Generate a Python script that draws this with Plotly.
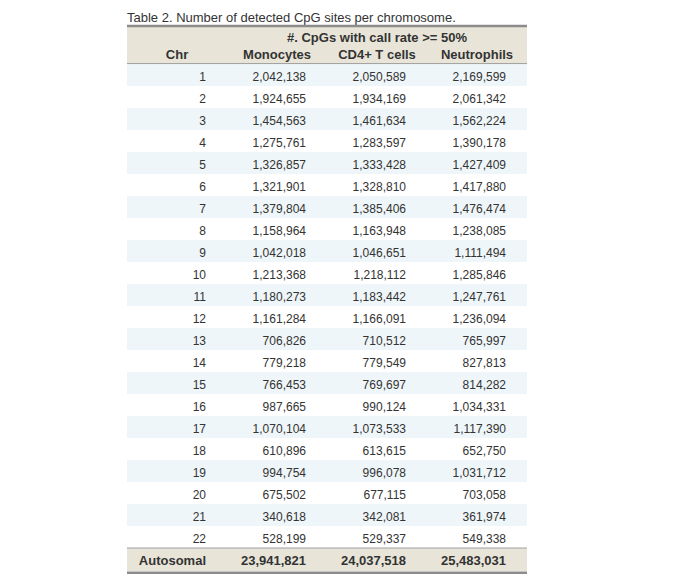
import plotly.graph_objects as go

# ---------------- data ----------------
title = "Table 2. Number of detected CpG sites per chromosome."
group_header = "#. CpGs with call rate >= 50%"
col_headers = ["Chr", "Monocytes", "CD4+ T cells", "Neutrophils"]
chromosomes = ["1", "2", "3", "4", "5", "6", "7", "8", "9", "10", "11",
               "12", "13", "14", "15", "16", "17", "18", "19", "20", "21", "22"]
monocytes = [2042138, 1924655, 1454563, 1275761, 1326857, 1321901, 1379804,
             1158964, 1042018, 1213368, 1180273, 1161284, 706826, 779218,
             766453, 987665, 1070104, 610896, 994754, 675502, 340618, 528199]
cd4_t_cells = [2050589, 1934169, 1461634, 1283597, 1333428, 1328810, 1385406,
               1163948, 1046651, 1218112, 1183442, 1166091, 710512, 779549,
               769697, 990124, 1073533, 613615, 996078, 677115, 342081, 529337]
neutrophils = [2169599, 2061342, 1562224, 1390178, 1427409, 1417880, 1476474,
               1238085, 1111494, 1285846, 1247761, 1236094, 765997, 827813,
               814282, 1034331, 1117390, 652750, 1031712, 703058, 361974, 549338]
total_label = "Autosomal"
totals = [23941821, 24037518, 25483031]

# ---------------- style ----------------
FONT = "Liberation Sans, Arial, sans-serif"
TXT = "#333333"
STRIPE = "#eff6f9"
HEADER_BG = "#e8e5d8"
BORDER = "#8c8c8c"
THIN = "#a0a0a0"

n = len(chromosomes)
rows = list(range(1, n + 1))
total_row = n + 1
ncol = len(col_headers)
right_pad = 0.21            # right padding inside each column (column units)
dy = 0.12                   # vertical text nudge (row units)

fig = go.Figure()

shapes = []
for r in rows:
    if r % 2 == 1:
        shapes.append(dict(type="rect", xref="x", yref="y", x0=0, x1=ncol,
                           y0=r - 0.5, y1=r + 0.5, fillcolor=STRIPE,
                           line=dict(width=0), layer="below"))
shapes.append(dict(type="rect", xref="x", yref="y", x0=0, x1=ncol,
                   y0=-1.19, y1=0.48, fillcolor=HEADER_BG,
                   line=dict(width=0), layer="below"))
shapes.append(dict(type="rect", xref="x", yref="y", x0=0, x1=ncol,
                   y0=total_row - 0.5, y1=total_row + 0.55, fillcolor=HEADER_BG,
                   line=dict(width=0), layer="below"))
shapes.append(dict(type="line", xref="x", yref="y", x0=0, x1=ncol,
                   y0=-1.23, y1=-1.23, line=dict(color=BORDER, width=2.5)))
shapes.append(dict(type="line", xref="x", yref="y", x0=0, x1=ncol,
                   y0=0.48, y1=0.48, line=dict(color=THIN, width=1)))
shapes.append(dict(type="line", xref="x", yref="y", x0=0, x1=ncol,
                   y0=total_row - 0.5, y1=total_row - 0.5,
                   line=dict(color=THIN, width=1)))
shapes.append(dict(type="line", xref="x", yref="y", x0=0, x1=ncol,
                   y0=total_row + 0.62, y1=total_row + 0.62,
                   line=dict(color=BORDER, width=2.5)))

def fmt(v):
    return f"{v:,}"

body_font = dict(family=FONT, size=12, color=TXT)
bold_font = dict(family=FONT, size=13, color=TXT, weight="bold")
text_rows = [r + dy for r in rows]

fig.add_trace(go.Scatter(x=[1 - right_pad] * n, y=text_rows, text=chromosomes,
                         mode="text", textposition="middle left",
                         textfont=body_font, hoverinfo="skip", cliponaxis=False))
for k, series in enumerate([monocytes, cd4_t_cells, neutrophils], start=1):
    fig.add_trace(go.Scatter(x=[k + 1 - right_pad] * n, y=text_rows,
                             text=[fmt(v) for v in series],
                             mode="text", textposition="middle left",
                             textfont=body_font, hoverinfo="skip",
                             cliponaxis=False))

fig.add_trace(go.Scatter(x=[k + 1 - right_pad for k in range(ncol)],
                         y=[total_row + dy] * ncol,
                         text=[total_label] + [fmt(v) for v in totals],
                         mode="text", textposition="middle left",
                         textfont=bold_font, hoverinfo="skip", cliponaxis=False))

fig.add_trace(go.Scatter(x=[k + 0.5 for k in range(ncol)], y=[0 + dy] * ncol,
                         text=col_headers, mode="text",
                         textposition="middle center", textfont=bold_font,
                         hoverinfo="skip", cliponaxis=False))
fig.add_trace(go.Scatter(x=[(1 + ncol) / 2], y=[-0.75 + dy], text=[group_header],
                         mode="text", textposition="middle center",
                         textfont=bold_font, hoverinfo="skip", cliponaxis=False))

fig.add_trace(go.Scatter(x=[0], y=[-1.68 + dy], text=[title], mode="text",
                         textposition="middle right",
                         textfont=dict(family=FONT, size=13, color=TXT),
                         hoverinfo="skip", cliponaxis=False))

fig.update_layout(
    width=687, height=574,
    margin=dict(l=0, r=0, t=0, b=0),
    paper_bgcolor="white", plot_bgcolor="white",
    showlegend=False,
    shapes=shapes,
    xaxis=dict(range=[-1.19, 5.68], visible=False, fixedrange=True),
    yaxis=dict(range=[24.045, -2.045], visible=False, fixedrange=True),
)

fig.write_html("out.html")
